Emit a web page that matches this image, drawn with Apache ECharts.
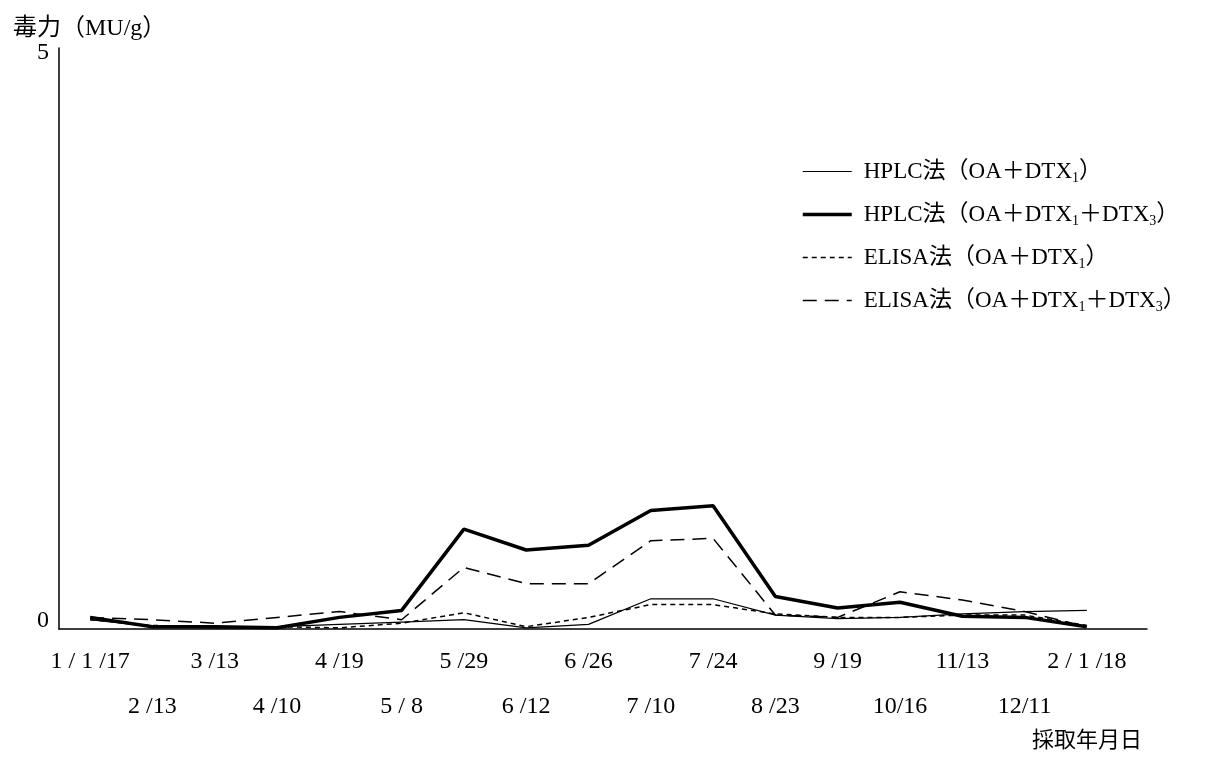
<!DOCTYPE html>
<html>
<head>
<meta charset="utf-8">
<script src="https://cdn.jsdelivr.net/npm/echarts@6/dist/echarts.min.js"></script>
<style>
html,body{margin:0;padding:0;background:#fff;}
#chart{width:1216px;height:760px;}
</style>
</head>
<body>
<div id="chart"></div>
<script>
const categories = ['1 / 1 /17','2 /13','3 /13','4 /10','4 /19','5 / 8','5 /29','6 /12','6 /26','7 /10','7 /24','8 /23','9 /19','10/16','11/13','12/11','2 / 1 /18'];
const hplcA = [0.08,0.02,0.01,0.02,0.04,0.06,0.08,0.01,0.04,0.26,0.26,0.12,0.09,0.10,0.13,0.15,0.16];
const hplcB = [0.10,0.02,0.02,0.01,0.10,0.16,0.86,0.68,0.72,1.02,1.06,0.28,0.18,0.23,0.11,0.10,0.02];
const elisaA = [0.08,0.03,0.02,0.02,0.01,0.05,0.14,0.02,0.10,0.21,0.21,0.13,0.10,0.10,0.12,0.12,0.03];
const elisaB = [0.10,0.08,0.05,0.10,0.15,0.08,0.53,0.39,0.39,0.76,0.78,0.12,0.10,0.32,0.25,0.15,0.02];
const seriesNames = ['HPLC法（OA＋DTX1）','HPLC法（OA＋DTX1＋DTX3）','ELISA法（OA＋DTX1）','ELISA法（OA＋DTX1＋DTX3）'];
const yTitle = '毒力（MU/g）';
const xTitle = '採取年月日';

const FONT = '"Liberation Serif", "Noto Sans CJK JP", serif';
const chart = echarts.init(document.getElementById('chart'));

const styles = [
  {width: 1.2, type: 'solid'},
  {width: 3.5, type: 'solid'},
  {width: 1.5, type: [5, 4]},
  {width: 1.5, type: [14, 8]}
];
const allData = [hplcA, hplcB, elisaA, elisaB];

chart.setOption({
  animation: false,
  backgroundColor: '#fff',
  title: [
    {text: yTitle, left: 8, top: 12, textStyle: {fontFamily: FONT, fontSize: 24, fontWeight: 'normal', color: '#000'}},
    {text: xTitle, left: 1027, top: 725, textStyle: {fontFamily: FONT, fontSize: 22, fontWeight: 'normal', color: '#000'}}
  ],
  grid: [
    {left: 59, right: 69, top: 48, bottom: 131},
    {left: 59, right: 98, top: 48, bottom: 131}
  ],
  xAxis: [
    {type: 'value', gridIndex: 0, min: 0, max: 1,
     axisLine: {show: true, onZero: false, lineStyle: {color: '#000', width: 1.5}},
     axisTick: {show: false}, axisLabel: {show: false}, splitLine: {show: false}},
    {type: 'category', gridIndex: 1, data: categories, boundaryGap: true,
     axisLine: {show: false}, axisTick: {show: false}, splitLine: {show: false},
     axisLabel: {interval: 0, margin: 10, color: '#000', fontFamily: FONT, fontSize: 24, lineHeight: 45,
       formatter: function (v, i) { return i % 2 ? '\n' + v : v; }}}
  ],
  yAxis: [
    {type: 'value', gridIndex: 0, min: 0, max: 5, interval: 5,
     axisLine: {show: true, lineStyle: {color: '#000', width: 1.5}},
     axisTick: {show: false}, splitLine: {show: false},
     axisLabel: {margin: 10, color: '#000', fontFamily: FONT, fontSize: 24,
       formatter: function (v) { return v === 0 ? '{lo|0}' : '{hi|' + v + '}'; },
       rich: {
         lo: {fontFamily: FONT, fontSize: 24, color: '#000', padding: [0, 0, 16, 0]},
         hi: {fontFamily: FONT, fontSize: 24, color: '#000', padding: [10, 0, 0, 0]}
       }}},
    {type: 'value', gridIndex: 1, min: 0, max: 5, show: false}
  ],
  legend: {
    orient: 'vertical', left: 796, top: 153, itemWidth: 49, itemHeight: 14, itemGap: 16,
    itemStyle: {opacity: 0},
    data: seriesNames.map(function (n, i) {
      return {name: n, lineStyle: {color: '#000', width: styles[i].width, type: styles[i].type}};
    }),
    formatter: function (n) { return n.replace(/DTX(\d)/g, 'DTX{sub|$1}'); },
    textStyle: {fontFamily: FONT, fontSize: 23, color: '#000', lineHeight: 27, padding: [0,0,0,7],
      rich: {sub: {fontFamily: FONT, fontSize: 14, color: '#000', verticalAlign: 'bottom', lineHeight: 27}}}
  },
  series: seriesNames.map(function (n, i) {
    return {
      name: n, type: 'line', data: allData[i], xAxisIndex: 1, yAxisIndex: 1,
      symbol: 'none', smooth: false, silent: true,
      lineStyle: {color: '#000', width: styles[i].width, type: styles[i].type},
      itemStyle: {color: '#000'}
    };
  })
});
</script>
</body>
</html>
